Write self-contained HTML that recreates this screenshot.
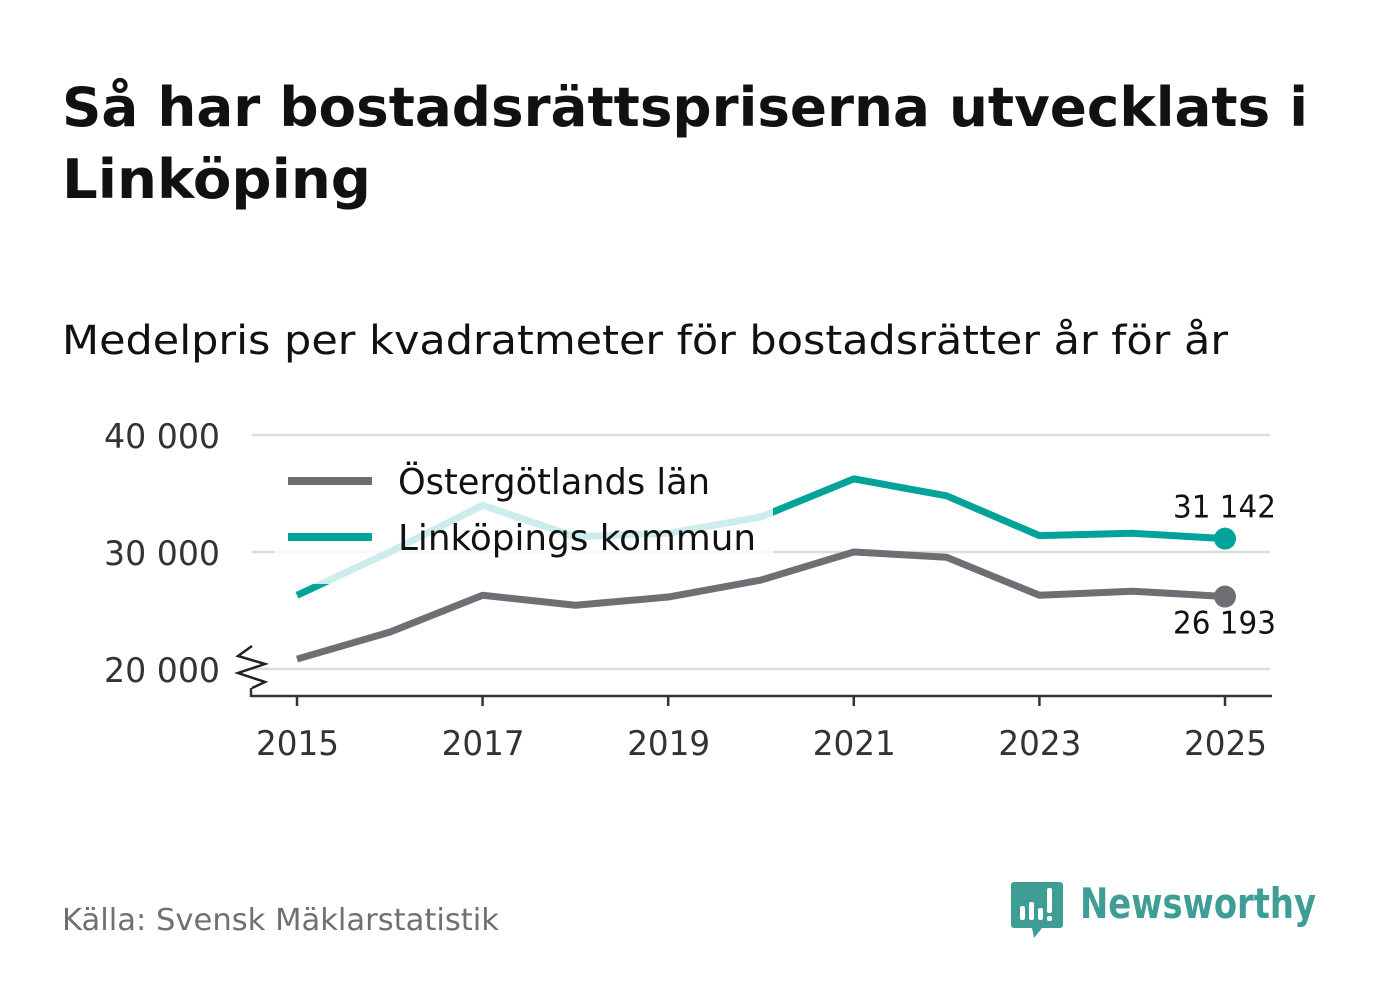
<!DOCTYPE html>
<html><head><meta charset="utf-8"><style>
body{margin:0;background:#fff;}
svg{display:block;font-family:"DejaVu Sans","Liberation Sans",sans-serif;}
</style></head><body>
<svg id="c" width="1382" height="999" viewBox="0 0 1382 999">
<text x="62" y="126" font-size="54" font-weight="bold" fill="#111" textLength="1246" lengthAdjust="spacingAndGlyphs">Så har bostadsrättspriserna utvecklats i</text>
<text x="62" y="198" font-size="54" font-weight="bold" fill="#111" textLength="309" lengthAdjust="spacingAndGlyphs">Linköping</text>
<text x="62" y="354" font-size="40" fill="#111" textLength="1166" lengthAdjust="spacingAndGlyphs">Medelpris per kvadratmeter för bostadsrätter år för år</text>
<g id="grid"></g>
<g id="axis"></g>
<g id="series"></g>
<g id="legend"></g>
<text x="62" y="930" font-size="30" fill="#707070" textLength="437" lengthAdjust="spacingAndGlyphs">Källa: Svensk Mäklarstatistik</text>
<g>
<path d="M1014 882 h46 a3 3 0 0 1 3 3 v40 a3 3 0 0 1 -3 3 h-18 l-8 10 l-2 -10 h-18 a3 3 0 0 1 -3 -3 v-40 a3 3 0 0 1 3 -3z" fill="#3e9e96"/>
<rect x="1020" y="906" width="5" height="14" rx="2" fill="#fff"/>
<rect x="1029" y="902" width="5" height="18" rx="2" fill="#fff"/>
<rect x="1038" y="908" width="5" height="12" rx="2" fill="#fff"/>
<rect x="1047" y="888" width="5" height="25" rx="2" fill="#fff"/>
<rect x="1047" y="916" width="5" height="5" rx="2" fill="#fff"/>
<text x="1080" y="918" font-size="42" font-weight="bold" fill="#3e9e96" textLength="236" lengthAdjust="spacingAndGlyphs">Newsworthy</text>
</g>
</svg>
<script>
const years=[2015,2016,2017,2018,2019,2020,2021,2022,2023,2024,2025];
const linkoping=[26300,30000,34000,31300,31600,33000,36250,34800,31400,31600,31142];
const ostergotland=[20850,23150,26300,25450,26150,27600,30000,29550,26300,26650,26193];
const yTicks=[20000,30000,40000];
const xTicks=[2015,2017,2019,2021,2023,2025];
const NS='http://www.w3.org/2000/svg';
const X=y=>297+(y-2015)*92.8;
const Y=v=>669-(v-20000)*0.0117;
const fmt=v=>String(Math.round(v)).replace(/\B(?=(\d{3})+(?!\d))/g,' ');
function mk(t,a,p){const e=document.createElementNS(NS,t);for(const k in a)e.setAttribute(k,a[k]);p.appendChild(e);return e;}
const grid=document.getElementById('grid');
yTicks.forEach(v=>{
 const l=mk('line',{x1:252,x2:1270,y1:Y(v),y2:Y(v),stroke:'#dcdcdc','stroke-width':2.5},grid);
 
 
 const t=mk('text',{x:104,y:Y(v)+13,'font-size':34,fill:'#333',textLength:116,lengthAdjust:'spacingAndGlyphs'},grid);
 t.textContent=fmt(v);
 
 
});
const ax=document.getElementById('axis');
mk('line',{x1:251,x2:1272,y1:696,y2:696,stroke:'#333','stroke-width':2.5},ax);
mk('line',{x1:251,x2:251,y1:688,y2:697,stroke:'#333','stroke-width':2.5},ax);
mk('polyline',{points:'252,646 238,656 265,664 238,673 265,682 252,688',fill:'none',stroke:'#222','stroke-width':2.5},ax);
xTicks.forEach(y=>{
 mk('line',{x1:X(y),x2:X(y),y1:696,y2:706,stroke:'#333','stroke-width':2.5},ax);
 const t=mk('text',{x:X(y)-41,y:755,'font-size':34,fill:'#333',textLength:83,lengthAdjust:'spacingAndGlyphs'},ax);
 t.textContent=y;
 
 
});
const s=document.getElementById('series');
function line(vals,col,name){
 const p=mk('polyline',{points:vals.map((v,i)=>X(years[i])+','+Y(v)).join(' '),fill:'none',stroke:col,'stroke-width':7,'stroke-linejoin':'round'},s);
 
 
 const last=vals.length-1;
 const c=mk('circle',{cx:X(years[last]),cy:Y(vals[last]),r:11,fill:col},s);
 
 
}
line(linkoping,'#00a39a','linkoping-line');
const bg=mk('rect',{x:275,y:452,width:498,height:132,fill:'#fff','fill-opacity':0.8},s);


line(ostergotland,'#6f6e74','ostergotland-line');
const l1=linkoping.length-1;
const t1=mk('text',{x:X(years[l1])-52,y:Y(linkoping[l1])-21,'font-size':31,fill:'#111',textLength:103,lengthAdjust:'spacingAndGlyphs'},s);
t1.textContent=fmt(linkoping[l1]);


const t2=mk('text',{x:X(years[l1])-52,y:Y(ostergotland[l1])+37,'font-size':31,fill:'#111',textLength:103,lengthAdjust:'spacingAndGlyphs'},s);
t2.textContent=fmt(ostergotland[l1]);


const lg=document.getElementById('legend');
mk('line',{x1:288,x2:372,y1:481,y2:481,stroke:'#6f6e74','stroke-width':8},lg);
mk('line',{x1:288,x2:372,y1:537,y2:537,stroke:'#00a39a','stroke-width':8},lg);
const a=mk('text',{x:398,y:494,'font-size':36,fill:'#111',textLength:312,lengthAdjust:'spacingAndGlyphs'},lg);a.textContent='Östergötlands län';


const b=mk('text',{x:398,y:550,'font-size':36,fill:'#111',textLength:358,lengthAdjust:'spacingAndGlyphs'},lg);b.textContent='Linköpings kommun';


</script>
</body></html>
